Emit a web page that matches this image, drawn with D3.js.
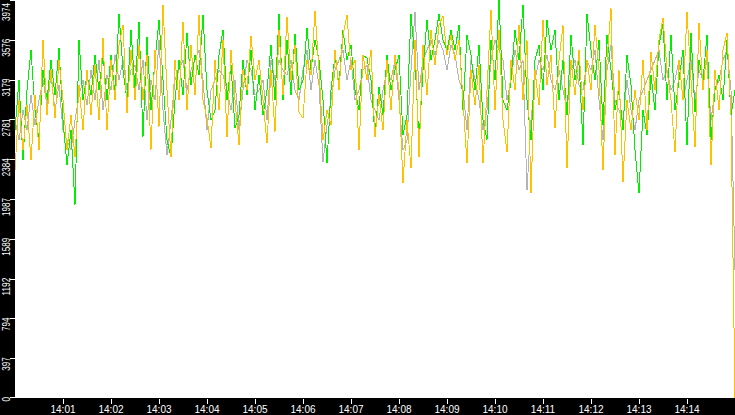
<!DOCTYPE html>
<html lang="en">
<head>
<meta charset="UTF-8">
<title>Live throughput</title>
<script src="https://d3js.org/d3.v7.min.js"></script>
<style>
    html, body { margin: 0; padding: 0; background: #000; }
    svg { display: block; }
    .ylab { font: 10px "Liberation Sans", Arial, sans-serif; fill: #fff; }
    .xlab { font: 10px "Liberation Sans", Arial, sans-serif; fill: #fff; text-anchor: middle; }
    .tick { stroke: #fff; stroke-width: 1; shape-rendering: crispEdges; }
    .series { fill: none; stroke-width: 1; shape-rendering: crispEdges; }
</style>
</head>
<body>
<svg width="735" height="415"></svg>
<script>
    // samples every 5 seconds from 14:00:00 to 14:15:00
    const startTime = new Date(2000, 0, 1, 14, 0, 0);
    const stepSeconds = 5;

    const grayValues = [2774,2574,2874,2674,3024,2724,2974,3174,2924,3224,2874,3124,2674,2574,2474,2774,3024,3174,2924,3274,2974,3374,2874,3224,3074,3424,3174,3374,3074,3274,3324,3074,
        3374,2774,3174,2974,3574,2874,2424,2774,3174,3274,3374,3074,3274,3374,3474,3174,2674,3074,3174,3274,3224,3074,2874,3174,2674,3074,3374,3274,3024,3074,
        3174,2774,3374,3174,3374,3274,3224,3374,3074,2974,3274,3474,3074,3374,3124,2354,2724,2974,3274,3374,3474,3174,3374,2974,3074,3274,3324,2974,2874,2774,
        3074,3274,3174,3374,2974,2474,2574,3274,3854,3074,3374,3474,3574,3424,3574,3474,3274,3524,3424,3174,3074,2674,3374,3174,2974,2674,2874,3374,3574,3474,
        3374,2974,3174,3474,3274,3374,2074,2774,3174,3374,3274,3424,3174,3074,3274,3074,2874,3274,3374,3124,3074,3374,3274,3474,2974,2574,3274,3524,2974,
        2874,2774,3174,2874,2674,2974,3074,3174,3274,3374,3474,3174,3274,3074,3174,3374,2974,3174,3374,2974,3274,3174,3374,2774,3074,3174,3374,3474,3074,1274];

    const greenValues = [2674,3174,2374,3074,3474,2874,2574,3274,2974,3374,3024,3494,2774,2324,2674,1924,3574,2974,3224,3024,3424,3074,3424,2974,3424,3024,3834,3274,2974,3674,3074,3754,
        2604,3604,2874,3374,3774,3174,2574,2404,2974,3374,3024,3644,3124,3424,3224,3824,3074,2774,2874,3424,3674,2974,3324,2694,2824,3374,3024,3474,2874,3224,
        2824,3074,3524,2974,3834,2974,3574,3024,3634,3074,3174,3694,3274,3574,3374,2974,2344,3074,3424,3124,3674,3374,3524,3074,2874,3424,3394,3174,2624,3104,
        2824,3424,3074,3274,3424,2624,2824,3834,3374,2574,3274,3774,3374,3574,3834,3574,3474,3674,3474,3724,2874,3624,3424,3074,3524,2774,2574,3574,3174,3974,
        2974,2874,3174,3674,3374,3924,2974,2574,3374,3524,3074,3774,3474,3674,2974,3374,2824,3624,3174,3374,2524,3834,3474,3174,3574,2724,3624,3274,2874,
        3074,2674,3424,3124,2474,2044,2874,2624,3224,2874,3524,3734,2974,3624,2874,3174,3474,2524,3644,2854,3374,3174,3624,2574,3074,3224,2974,3574,2824,3074];

    const orangeValues = [2274,2974,2474,2924,2374,3024,2474,3574,2824,3274,2794,3374,2974,2474,2824,2404,3124,2674,3274,2824,3324,2774,3594,2674,3374,2974,3524,3724,2844,3474,2974,3524,
        2974,3424,2474,3474,2704,3924,3074,2404,3374,2974,3754,2874,3524,3024,3824,2974,2794,2494,3374,2874,3574,2604,3474,2974,2524,3274,3074,3614,3174,3374,
        2974,2544,3274,2654,3674,3024,3804,3174,3524,2854,2794,3374,3224,3864,3274,2574,2874,2724,3474,3074,3624,3824,3274,3374,2474,3424,3174,3474,2604,3024,
        2674,3374,2874,3424,3074,2144,2774,2294,3574,2404,3524,3024,3674,3324,3724,3814,3424,3624,3374,3574,2974,2344,3274,2924,3324,2344,3074,3874,2874,3674,
        2774,2454,3374,3074,3724,2974,3574,2044,3274,2924,3774,3124,3424,2694,3374,3724,2294,3374,3024,3474,2874,3374,3074,3724,3274,2274,3374,3894,2424,
        3274,2154,2974,2674,3074,2774,3374,2674,3454,3074,3574,3794,3274,2974,2454,3374,2974,3854,3174,2504,3744,3074,3474,2324,3274,2874,3474,3644,2824,0];

    const yTickValues = [0, 397, 794, 1192, 1589, 1987, 2384, 2781, 3179, 3576, 3974];
    const xTickLabels = ["14:01","14:02","14:03","14:04","14:05","14:06","14:07",
                         "14:08","14:09","14:10","14:11","14:12","14:13","14:14"];

    const width = 735, height = 415;
    const margin = {left: 15, bottom: 17};
    const plotBottom = height - margin.bottom;

    const svg = d3.select("svg");

    svg.append("rect")
        .attr("width", width).attr("height", height)
        .attr("fill", "#000");

    svg.append("rect")
        .attr("x", margin.left).attr("y", 0)
        .attr("width", width - margin.left).attr("height", plotBottom)
        .attr("fill", "#fff");

    const x = d3.scaleTime()
        .domain([startTime, d3.timeMinute.offset(startTime, 15)])
        .range([margin.left, width]);

    const y = d3.scaleLinear()
        .domain([0, 3974])
        .range([plotBottom, 0]);

    const timeAt = i => new Date(startTime.getTime() + i * stepSeconds * 1000);

    svg.append("clipPath").attr("id", "plot")
        .append("rect")
        .attr("x", margin.left).attr("y", 0)
        .attr("width", width - margin.left).attr("height", plotBottom + 1);

    const line = d3.line()
        .x((d, i) => x(timeAt(i)))
        .y(d => y(d));

    const series = [
        {values: grayValues, color: "#b4b4b4", w: 0.7},
        {values: greenValues, color: "#00ee00", w: 1},
        {values: orangeValues, color: "#ffc000", w: 1}
    ];

    svg.append("g").attr("clip-path", "url(#plot)")
        .selectAll("path")
        .data(series)
        .join("path")
        .attr("class", "series")
        .attr("stroke", d => d.color)
        .attr("stroke-width", d => d.w)
        .attr("d", d => line(d.values));

    // y axis: ticks on black strip, labels rotated, hanging below their tick
    const yAxis = svg.append("g");
    yAxis.selectAll("line")
        .data(yTickValues)
        .join("line")
        .attr("class", "tick")
        .attr("x1", 10).attr("x2", margin.left)
        .attr("y1", d => Math.min(Math.round(y(d)) + 0.5, plotBottom - 0.5))
        .attr("y2", d => Math.min(Math.round(y(d)) + 0.5, plotBottom - 0.5));

    yAxis.selectAll("text")
        .data(yTickValues)
        .join("text")
        .attr("class", "ylab")
        .attr("text-anchor", "end")
        .attr("textLength", d => String(d).length * 4.5)
        .attr("lengthAdjust", "spacingAndGlyphs")
        .attr("transform", d => `translate(10,${Math.max(y(d) - 1, 3)}) rotate(-90)`)
        .text(d => d);

    // x axis
    const xTicks = xTickLabels.map((t, i) => d3.timeMinute.offset(startTime, i + 1));
    const xAxis = svg.append("g");
    xAxis.selectAll("line")
        .data(xTicks)
        .join("line")
        .attr("class", "tick")
        .attr("x1", d => Math.round(x(d)) + 0.5).attr("x2", d => Math.round(x(d)) + 0.5)
        .attr("y1", plotBottom + 1).attr("y2", plotBottom + 6);

    xAxis.selectAll("text")
        .data(xTicks)
        .join("text")
        .attr("class", "xlab")
        .attr("x", d => x(d))
        .attr("y", height - 2)
        .text((d, i) => xTickLabels[i]);
</script>
</body>
</html>
